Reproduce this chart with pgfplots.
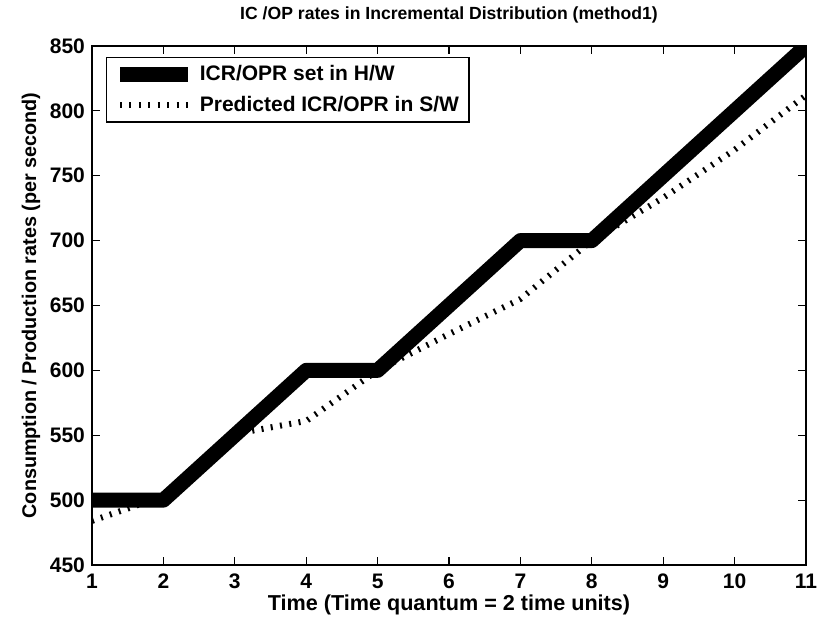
\documentclass[border=0pt]{standalone}
\usepackage{fontspec}
\setmainfont{Liberation Sans}
\usepackage{pgfplots}
\pgfplotsset{compat=1.18}
\begin{document}
\begin{tikzpicture}
\begin{axis}[
  name=ax,
  scale only axis,
  width=357pt, height=259.5pt,
  xmin=1, xmax=11, ymin=450, ymax=850,
  xtick={1,2,...,11},
  ytick={450,500,...,850},
  tick align=inside,
  major tick length=4pt,
  axis line style={line width=0.6pt},
  tick style={line width=0.6pt, black},
  /pgf/number format/assume math mode=true,
  ticklabel style={font=\bfseries\fontsize{10.5}{12}\selectfont},
  xticklabel style={yshift=-1pt},
  title={IC /OP rates in Incremental Distribution (method1)},
  title style={font=\bfseries\fontsize{8.8}{10}\selectfont, yshift=2pt},
  xlabel={Time (Time quantum = 2 time units)},
  ylabel={Consumption / Production rates (per second)},
  xlabel style={font=\bfseries\fontsize{10.8}{12}\selectfont, yshift=4pt},
  ylabel style={font=\bfseries\fontsize{9.9}{11}\selectfont, yshift=-2pt},
  legend style={at={(rel axis cs:0,1)}, anchor=north west, xshift=7pt, yshift=-5.5pt,
    font=\bfseries\fontsize{10.5}{12}\selectfont, draw=black, line width=0.6pt,
    row sep=2pt, inner xsep=3pt, inner ysep=2pt},
  legend cell align=left,
  legend image code/.code={\draw[#1] (0cm,0cm) -- (1.2cm,0cm);},
]
\addplot[black, line width=7.5pt, line join=round] coordinates {
 (1,500) (2,500) (3,550) (4,600) (5,600) (6,650) (7,700) (8,700) (9,750) (10,800) (11,850)};
\addlegendentry{ICR/OPR set in H/W}
\addplot[black, line width=3pt, dash pattern=on 1pt off 3.7pt] coordinates {
 (1,484) (2,503) (3,551) (4,561) (5,600) (6,628) (7,655) (8,700) (9,733) (10,770) (11,812)};
\addlegendentry{Predicted ICR/OPR in S/W}
\end{axis}
\pgfresetboundingbox
\path ([xshift=-46pt,yshift=-26pt]ax.south west) rectangle ([xshift=6pt,yshift=23pt]ax.north east);
\end{tikzpicture}
\end{document}
